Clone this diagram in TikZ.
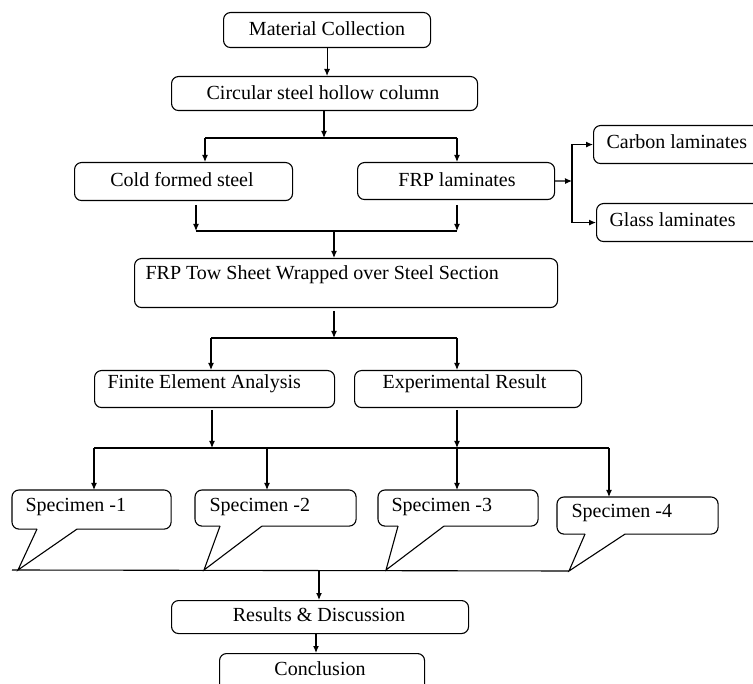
\documentclass[tikz,border=0pt]{standalone}
\usepackage{fontspec}
\setmainfont{Liberation Serif}
\usetikzlibrary{arrows.meta,calc}
\begin{document}
\begin{tikzpicture}[x=1pt,y=-1pt,
  line width=1.1pt,
  box/.style={draw, rounded corners=7pt, inner sep=0pt, anchor=north west},
  cbox/.style={draw=none, inner sep=0pt, anchor=north west},
  txt/.style={inner sep=0pt, font=\fontsize{20}{24}\selectfont},
  arr/.style={-{Latex[length=7pt,width=6pt]}},
  callout/.style={rounded corners=7pt}]
\useasboundingbox (0,0) rectangle (753,684);

% boxes
\node[box, minimum width=207, minimum height=35] (mc) at (223,12) {};
\node[box, minimum width=306, minimum height=34] (csh) at (171,76) {};
\node[box, minimum width=218, minimum height=38] (cfs) at (74,162) {};
\node[box, minimum width=197, minimum height=37] (frp) at (357,162) {};
\node[box, minimum width=170, minimum height=38] (carbon) at (593,125) {};
\node[box, minimum width=170, minimum height=38] (glass) at (596,203) {};
\node[box, minimum width=423, minimum height=49] (tow) at (134,258) {};
\node[box, minimum width=240, minimum height=37] (fea) at (94,370) {};
\node[box, minimum width=227, minimum height=37] (exp) at (354,370) {};
\node[box, minimum width=297, minimum height=33] (rd) at (171,600) {};
\node[box, minimum width=205, minimum height=50] (con) at (219,653) {};

% callout boxes (outline drawn below)
\node[cbox, minimum width=158, minimum height=38] (s1) at (12,490) {};
\node[cbox, minimum width=160, minimum height=35] (s2) at (195,490) {};
\node[cbox, minimum width=159, minimum height=35] (s3) at (378,490) {};
\node[cbox, minimum width=160, minimum height=36] (s4) at (557,497) {};

\coordinate (tip1) at (18,570);
\coordinate (tip2) at (204,570);
\coordinate (tip3) at (386,570);
\coordinate (tip4) at (569,571);

\foreach \s/\a/\b/\t in {s1/25/65/tip1, s2/25/67/tip2, s3/20/66/tip3, s4/28/68/tip4}{
  \draw[callout] ($(\s.south west)+(\a,0)$) -- (\s.south west) -- (\s.north west)
     -- (\s.north east) -- (\s.south east) -- ($(\s.south west)+(\b,0)$);
  \draw ($(\s.south west)+(\a,0)$) -- (\t) -- ($(\s.south west)+(\b,0)$);
}

% texts
\node[txt] (tmc) at (327,29) {Material Collection};
\node[txt] (tcsh) at (323,93) {Circular steel hollow column};
\node[txt] (tcfs) at (182,180) {Cold formed steel};
\node[txt] (tfrp) at (457,180) {FRP laminates};
\node[txt, anchor=west] (tcarbon) at (606,142) {Carbon laminates};
\node[txt, anchor=west] (tglass) at (609,220) {Glass laminates};
\node[txt, anchor=west] (ttow) at (145,275) {FRP Tow Sheet Wrapped over Steel Section};
\node[txt, anchor=west] (tfea) at (107,384) {Finite Element Analysis};
\node[txt, anchor=west] (texp) at (382,384) {Experimental Result};
\node[txt, anchor=west] (ts1) at (25,507) {Specimen -1};
\node[txt, anchor=west] (ts2) at (209,507) {Specimen -2};
\node[txt, anchor=west] (ts3) at (391,507) {Specimen -3};
\node[txt, anchor=west] (ts4) at (571,513) {Specimen -4};
\node[txt] (trd) at (319,615) {Results \& Discussion};
\node[txt] (tcon) at (320,669) {Conclusion};

% connectors
\draw[arr] (mc.south) -- (mc.south |- csh.north);

\coordinate (b1) at (324,138);
\coordinate (b1l) at (205,138);
\coordinate (b1r) at (457,138);
\draw[arr] (csh.south -| b1) -- (b1);
\draw (b1l) -- (b1r);
\draw[arr] (b1l) -- (b1l |- cfs.north);
\draw[arr] (b1r) -- (b1r |- frp.north);

\coordinate (b2) at (572,181);
\draw[arr] (frp.east) -- (b2);
\draw[arr] (b2) |- (carbon.west);
\draw[arr] (b2) |- (glass.west);

\coordinate (c3l) at (196,205);
\coordinate (c3r) at (457,205);
\coordinate (b3l) at (196,231);
\coordinate (b3r) at (457,231);
\coordinate (b3) at (334,231);
\draw[arr] (c3l) -- (b3l);
\draw[arr] (c3r) -- (b3r);
\draw (b3l) -- (b3r);
\draw[arr] (b3) -- (b3 |- tow.north);

\coordinate (c4) at (334,311);
\coordinate (b4) at (334,338);
\coordinate (b4l) at (211,338);
\coordinate (b4r) at (457,338);
\draw[arr] (c4) -- (b4);
\draw (b4l) -- (b4r);
\draw[arr] (b4l) -- (b4l |- fea.north);
\draw[arr] (b4r) -- (b4r |- exp.north);

\coordinate (c5l) at (212,410);
\coordinate (c5r) at (457,410);
\coordinate (b5a) at (94,448);
\coordinate (b5b) at (267,448);
\coordinate (b5c) at (457,448);
\coordinate (b5d) at (609,448);
\coordinate (b5f) at (212,448);
\draw[arr] (c5l) -- (b5f);
\draw[arr] (c5r) -- (b5c);
\draw (b5a) -- (b5d);
\draw[arr] (b5a) -- (b5a |- s1.north);
\draw[arr] (b5b) -- (b5b |- s2.north);
\draw[arr] (b5c) -- (b5c |- s3.north);
\draw[arr] (b5d) -- (b5d |- s4.north);

\coordinate (busL) at (12,570);
\coordinate (b6) at (319,570);
\draw (busL) -- (tip4);
\draw[arr] (b6) -- (b6 |- rd.north);
\coordinate (c7) at (316,633);
\draw[arr] (c7) -- (c7 |- con.north);
\end{tikzpicture}
\end{document}
